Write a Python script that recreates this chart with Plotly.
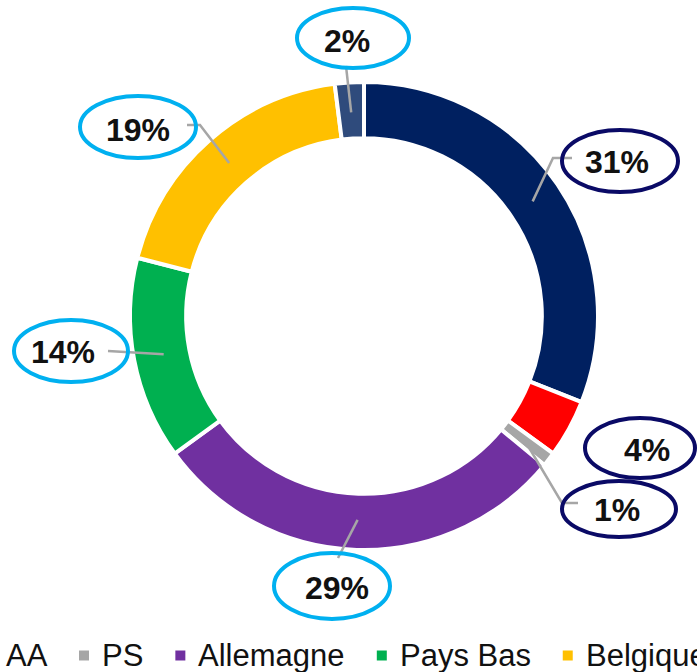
import math
import plotly.graph_objects as go

# Share of each segment (percent), in drawing order, clockwise from 12 o'clock
labels = ["France", "AA", "PS", "Allemagne", "Pays Bas", "Belgique", "Autres"]
values = [31, 4, 1, 29, 14, 19, 2]
colors = ["#002060", "#FF0000", "#A6A6A6", "#7030A0", "#00B050", "#FFC000", "#2F4B7C"]

W, H = 697, 672
CX, CY, R = 364, 316, 234      # ring centre and outer radius, pixels
HOLE = 0.76
FONT = "Liberation Sans, Arial, sans-serif"
LIGHT = "#00B0F0"
DARK = "#0A0A66"
LEADER = "#A6A6A6"


def px(x):
    return x / W


def py(y):
    return 1 - y / H


# Callout layout per segment: ellipse (cx, cy, rx, ry), ring colour, text centre, leader route
callouts = {
    0: dict(ell=(620, 161, 58, 31), edge=DARK, text=(617, 162), route=[(553, 158), (572, 158)]),
    1: dict(ell=(640, 448, 55, 30), edge=DARK, text=(647, 450), route=None),
    2: dict(ell=(619, 509, 57, 28), edge=DARK, text=(617, 510), route=[(562, 503), (578, 503)]),
    3: dict(ell=(332, 586, 58, 33), edge=LIGHT, text=(337, 588), route=[(338, 558)]),
    4: dict(ell=(71, 351, 57, 31), edge=LIGHT, text=(63, 352), route=[(108, 351)]),
    5: dict(ell=(138, 127, 58, 31), edge=LIGHT, text=(138, 130), route=[(200, 125), (187, 125)]),
    6: dict(ell=(353, 38, 56, 30), edge=LIGHT, text=(347, 41), route=[(346, 66)]),
}

fig = go.Figure(
    go.Pie(
        labels=labels,
        values=values,
        hole=HOLE,
        sort=False,
        direction="clockwise",
        rotation=0,
        textinfo="none",
        hoverinfo="label+percent",
        marker=dict(colors=colors, line=dict(color="white", width=4)),
        domain=dict(
            x=[px(CX - R), px(CX + R)],
            y=[py(CY + R), py(CY - R)],
        ),
        showlegend=False,
    )
)

shapes = []
annotations = []

# Leader lines start mid-ring at each segment's mid angle
total = sum(values)
mid_r = R * (1 + HOLE) / 2 - 2
cum = 0
for i, v in enumerate(values):
    theta = 2 * math.pi * (cum + v / 2) / total
    cum += v
    c = callouts[i]
    if c["route"]:
        sx = CX + mid_r * math.sin(theta)
        sy = CY - mid_r * math.cos(theta)
        pts = [(sx, sy)] + c["route"]
        path = "M " + " L ".join(f"{px(x):.5f},{py(y):.5f}" for x, y in pts)
        shapes.append(dict(type="path", xref="paper", yref="paper", path=path,
                           line=dict(color=LEADER, width=2.5)))

for i, v in enumerate(values):
    c = callouts[i]
    ex, ey, rx, ry = c["ell"]
    shapes.append(dict(type="circle", xref="paper", yref="paper",
                       x0=px(ex - rx), x1=px(ex + rx), y0=py(ey + ry), y1=py(ey - ry),
                       line=dict(color=c["edge"], width=4), fillcolor="rgba(0,0,0,0)"))
    tx, ty = c["text"]
    annotations.append(dict(x=px(tx), y=py(ty), xref="paper", yref="paper",
                            text=f"{v}%", showarrow=False, xanchor="center", yanchor="middle",
                            font=dict(family=FONT, size=32, color="#111111", weight="bold")))

# Legend row along the bottom edge (runs past both sides of the canvas)
ARIAL = {"A": .667, "B": .667, "F": .611, "P": .667, "S": .667, "a": .556, "c": .5, "e": .556,
         "g": .556, "i": .222, "l": .222, "m": .833, "n": .556, "q": .556, "r": .333, "s": .5,
         "t": .278, "u": .556, "y": .5, "o": .556, " ": .278}
LEG_SIZE = 31
MARK_TO_TEXT = 17
TEXT_TO_MARK = 38
LEG_Y = 655


def text_width(s):
    return sum(ARIAL.get(ch, .556) for ch in s) * LEG_SIZE


marks = []
x = 0.0
for name in labels:
    marks.append(x)
    x += MARK_TO_TEXT + text_width(name) + TEXT_TO_MARK
shift = 84 - marks[2]
for name, col, m in zip(labels, colors, marks):
    mc = m + shift
    shapes.append(dict(type="rect", xref="paper", yref="paper",
                       x0=px(mc - 5), x1=px(mc + 5), y0=py(LEG_Y + 5.5), y1=py(LEG_Y - 4.5),
                       fillcolor=col, line=dict(width=0)))
    annotations.append(dict(x=px(mc + MARK_TO_TEXT), y=py(LEG_Y), xref="paper", yref="paper",
                            text=name, showarrow=False, xanchor="left", yanchor="middle",
                            borderpad=0,
                            font=dict(family=FONT, size=LEG_SIZE, color="#111111")))

fig.update_layout(
    width=W,
    height=H,
    margin=dict(l=0, r=0, t=0, b=0),
    paper_bgcolor="white",
    plot_bgcolor="white",
    shapes=shapes,
    annotations=annotations,
    showlegend=False,
)

fig.write_html("out.html")
